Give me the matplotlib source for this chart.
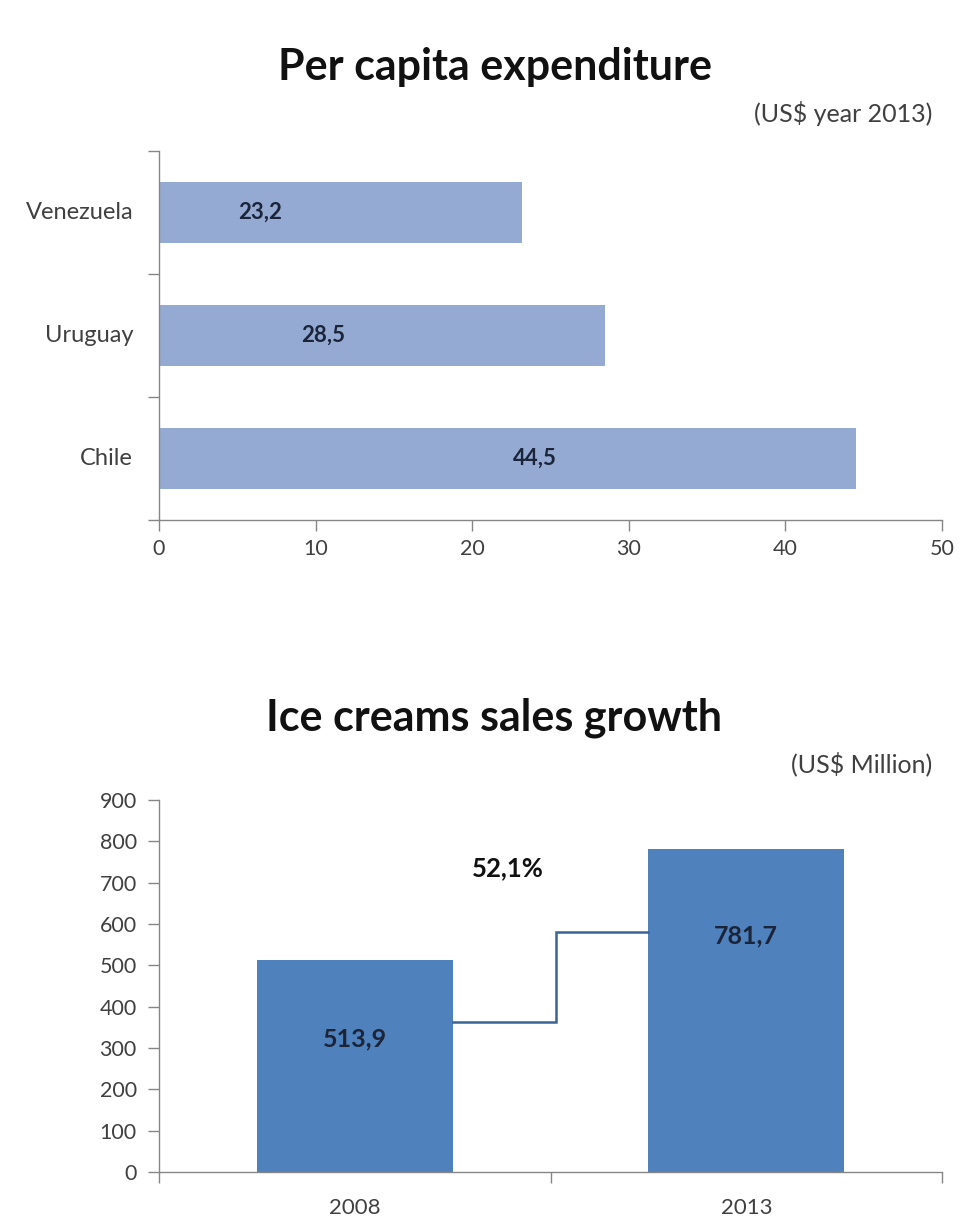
import matplotlib
matplotlib.use("Agg")
import matplotlib.pyplot as plt

plt.rcParams['font.family'] = ['Lato', 'DejaVu Sans']

# Per capita expenditure (US$, 2013)
countries = ["Chile", "Uruguay", "Venezuela"]
per_capita = [44.5, 28.5, 23.2]
per_capita_labels = ["44,5", "28,5", "23,2"]
per_capita_label_x = [24.0, 10.5, 6.45]
x_ticks_top = [0, 10, 20, 30, 40, 50]

# Ice cream sales (US$ million)
years = ["2008", "2013"]
sales = [513.9, 781.7]
sales_labels = ["513,9", "781,7"]
sales_label_y = [322, 571]
growth_label = "52,1%"
growth_step = [363, 581]
y_ticks_bottom = [0, 100, 200, 300, 400, 500, 600, 700, 800, 900]

W, H = 960, 1225
fig = plt.figure(figsize=(W / 100, H / 100), dpi=100)

axis_gray = "#868686"
text_gray = "#404040"
label_navy = "#1B2438"


def frac(x0, y0, x1, y1):
    return [x0 / W, 1 - y1 / H, (x1 - x0) / W, (y1 - y0) / H]


def style_axes(ax):
    for s in ("top", "right"):
        ax.spines[s].set_visible(False)
    for s in ("left", "bottom"):
        ax.spines[s].set_color(axis_gray)
        ax.spines[s].set_linewidth(1.0)
    ax.tick_params(colors=axis_gray, length=8, width=1.0, labelcolor=text_gray,
                   labelsize=15.5)


# ---- Top: horizontal bars ----
ax1 = fig.add_axes(frac(159, 151, 942, 520))
ypos = list(range(len(countries)))
ax1.barh(ypos, per_capita, height=0.5, color="#94AAD3")
ax1.set_xlim(0, 50)
ax1.set_ylim(-0.5, len(countries) - 0.5)
ax1.set_xticks(x_ticks_top)
ax1.set_yticks([i - 0.5 for i in range(len(countries) + 1)])
ax1.set_yticklabels([])
style_axes(ax1)
ax1.tick_params(axis="x", pad=6)
for i, name in enumerate(countries):
    ax1.text(-1.65, i, name, ha="right", va="center", fontsize=17, color=text_gray)
for i, (lx, lab) in enumerate(zip(per_capita_label_x, per_capita_labels)):
    ax1.text(lx, i, lab, ha="center", va="center", fontsize=16,
             fontweight="bold", color=label_navy)

fig.text(495 / W, 1 - 80 / H, "Per capita expenditure", ha="center", va="baseline",
         fontsize=31, fontweight="bold", color="#111111")
fig.text(932 / W, 1 - 122 / H, "(US$ year 2013)", ha="right", va="baseline",
         fontsize=18, color=text_gray)

# ---- Bottom: vertical bars ----
ax2 = fig.add_axes(frac(159, 800, 942, 1172))
xpos = list(range(len(years)))
ax2.bar(xpos, sales, width=0.5, color="#4F81BD")
ax2.set_xlim(-0.5, len(years) - 0.5)
ax2.set_ylim(0, 900)
ax2.set_yticks(y_ticks_bottom)
ax2.set_xticks([i - 0.5 for i in range(len(years) + 1)])
ax2.set_xticklabels([])
style_axes(ax2)
ax2.tick_params(axis="y", pad=8)
for i, yr in enumerate(years):
    ax2.text(i, -87, yr, ha="center", va="center", fontsize=16, color=text_gray)
for i, (ly, lab) in enumerate(zip(sales_label_y, sales_labels)):
    ax2.text(i, ly, lab, ha="center", va="center", fontsize=18,
             fontweight="bold", color=label_navy)

# growth connector between the bars
x_left, x_right = 0.25, 0.75
x_mid = 0.515
ax2.plot([x_left, x_mid, x_mid, x_right],
         [growth_step[0], growth_step[0], growth_step[1], growth_step[1]],
         color="#3B6496", linewidth=1.8, solid_joinstyle="miter")
ax2.text(0.39, 736, growth_label, ha="center", va="center", fontsize=18.5,
         fontweight="bold", color="#111111")

fig.text(494 / W, 1 - 731 / H, "Ice creams sales growth", ha="center", va="baseline",
         fontsize=31, fontweight="bold", color="#111111")
fig.text(932 / W, 1 - 772 / H, "(US$ Million)", ha="right", va="baseline",
         fontsize=18, color=text_gray)

fig.savefig("out.png", dpi=100, facecolor="white")
